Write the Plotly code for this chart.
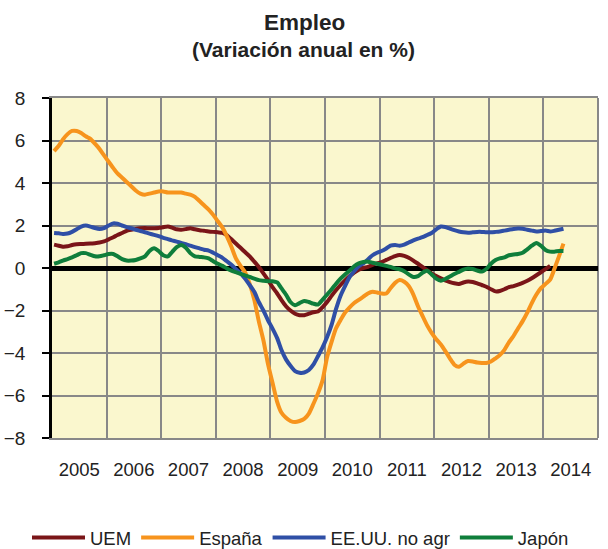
import plotly.graph_objects as go

# Monthly data, Jan 2005 onward (annual % change)
uem = [
    1.10, 1.05, 1.00, 1.02, 1.08, 1.12, 1.13, 1.14, 1.15, 1.17, 1.20, 1.25,
    1.35, 1.45, 1.55, 1.65, 1.75, 1.80, 1.84, 1.87, 1.88, 1.87, 1.87, 1.88,
    1.92, 1.95, 1.90, 1.82, 1.80, 1.83, 1.87, 1.82, 1.78, 1.75, 1.72, 1.70,
    1.68, 1.66, 1.55, 1.35, 1.15, 0.95, 0.75, 0.55, 0.30, 0.05, -0.25, -0.55,
    -0.90, -1.20, -1.50, -1.80, -2.00, -2.15, -2.22, -2.22, -2.15, -2.08, -2.05, -1.85,
    -1.60, -1.30, -1.05, -0.80, -0.58, -0.38, -0.22, -0.08, 0.00, 0.05, 0.15, 0.22,
    0.28, 0.38, 0.47, 0.56, 0.61, 0.57, 0.48, 0.35, 0.20, 0.05, -0.10, -0.25,
    -0.38, -0.48, -0.58, -0.66, -0.72, -0.75, -0.68, -0.64, -0.66, -0.72, -0.80, -0.88,
    -1.00, -1.10, -1.08, -1.00, -0.90, -0.85, -0.78, -0.70, -0.60, -0.48, -0.34, -0.20,
    -0.05, 0.10,
]

espana = [
    5.50, 5.75, 6.05, 6.30, 6.45, 6.45, 6.35, 6.20, 6.08, 5.85, 5.60, 5.30,
    5.00, 4.70, 4.45, 4.25, 4.05, 3.85, 3.65, 3.50, 3.45, 3.50, 3.55, 3.60,
    3.60, 3.55, 3.55, 3.55, 3.55, 3.50, 3.45, 3.35, 3.15, 2.95, 2.75, 2.50,
    2.20, 1.90, 1.50, 1.00, 0.45, 0.10, -0.20, -0.75, -1.50, -2.50, -3.40, -4.50,
    -5.40, -6.30, -6.80, -7.05, -7.20, -7.25, -7.20, -7.10, -6.85, -6.40, -5.90, -5.30,
    -4.20, -3.45, -2.85, -2.45, -2.10, -1.85, -1.65, -1.50, -1.35, -1.20, -1.12, -1.15,
    -1.20, -1.20, -0.95, -0.70, -0.57, -0.65, -0.85, -1.25, -1.80, -2.25, -2.70, -3.05,
    -3.35, -3.60, -3.90, -4.25, -4.55, -4.65, -4.50, -4.38, -4.40, -4.45, -4.47, -4.47,
    -4.40, -4.25, -4.10, -3.85, -3.50, -3.20, -2.85, -2.50, -2.10, -1.65, -1.25, -0.95,
    -0.75, -0.55, -0.05, 0.55, 1.15,
]

eeuu = [
    1.65, 1.63, 1.60, 1.62, 1.70, 1.82, 1.95, 2.00, 1.95, 1.88, 1.84, 1.88,
    2.00, 2.10, 2.08, 2.00, 1.92, 1.87, 1.80, 1.74, 1.68, 1.62, 1.56, 1.50,
    1.42, 1.36, 1.30, 1.24, 1.18, 1.12, 1.05, 0.98, 0.92, 0.86, 0.82, 0.72,
    0.60, 0.48, 0.32, 0.15, -0.05, -0.25, -0.50, -0.80, -1.12, -1.60, -2.00, -2.45,
    -2.85, -3.30, -3.85, -4.30, -4.60, -4.85, -4.93, -4.92, -4.80, -4.55, -4.15, -3.75,
    -3.25, -2.65, -1.95, -1.30, -0.85, -0.42, -0.15, 0.08, 0.22, 0.40, 0.60, 0.72,
    0.80, 0.92, 1.05, 1.08, 1.05, 1.10, 1.20, 1.30, 1.38, 1.45, 1.55, 1.65,
    1.82, 1.95, 1.93, 1.85, 1.78, 1.72, 1.68, 1.66, 1.68, 1.70, 1.70, 1.68,
    1.68, 1.70, 1.72, 1.76, 1.80, 1.84, 1.86, 1.85, 1.80, 1.76, 1.72, 1.74,
    1.76, 1.72, 1.75, 1.80, 1.85,
]

japon = [
    0.20, 0.27, 0.35, 0.42, 0.50, 0.60, 0.70, 0.70, 0.62, 0.55, 0.55, 0.60,
    0.66, 0.66, 0.55, 0.42, 0.35, 0.35, 0.38, 0.45, 0.55, 0.80, 0.93, 0.80,
    0.60, 0.55, 0.75, 0.98, 1.08, 0.95, 0.70, 0.55, 0.52, 0.50, 0.45, 0.32,
    0.20, 0.10, -0.02, -0.12, -0.20, -0.28, -0.35, -0.42, -0.50, -0.57, -0.60, -0.62,
    -0.62, -0.68, -0.95, -1.25, -1.60, -1.75, -1.65, -1.55, -1.60, -1.68, -1.72, -1.50,
    -1.25, -1.00, -0.75, -0.50, -0.30, -0.12, 0.08, 0.22, 0.28, 0.30, 0.25, 0.20,
    0.15, 0.10, 0.05, -0.02, -0.06, -0.15, -0.30, -0.42, -0.38, -0.22, -0.13, -0.30,
    -0.50, -0.60, -0.52, -0.40, -0.28, -0.18, -0.08, -0.02, -0.05, -0.12, -0.17, -0.05,
    0.20, 0.38, 0.45, 0.50, 0.60, 0.64, 0.66, 0.72, 0.88, 1.05, 1.18, 1.05,
    0.85, 0.77, 0.77, 0.80, 0.80,
]

series_names = ["UEM", "España", "EE.UU. no agr", "Japón"]
series_colors = ["#7A1518", "#F7941D", "#2F4FA6", "#0F7E3B"]
y_ticks = [-8, -6, -4, -2, 0, 2, 4, 6, 8]


def month_dates(n):
    return [f"{2005 + i // 12}-{i % 12 + 1:02d}-15" for i in range(n)]


fig = go.Figure()
for name, vals, col in zip(series_names, [uem, espana, eeuu, japon], series_colors):
    fig.add_trace(go.Scatter(
        x=month_dates(len(vals)), y=vals, name=name, mode="lines",
        line=dict(color=col, width=4, shape="spline", smoothing=0.6),
    ))

FONT = "Liberation Sans, Arial, sans-serif"
TXT = "#222222"

fig.update_layout(
    width=608, height=549,
    margin=dict(l=52, r=10, t=98, b=111, autoexpand=False),
    paper_bgcolor="white",
    plot_bgcolor="#FAF7CE",
    font=dict(family=FONT, size=18, color=TXT),
    showlegend=True,
    legend=dict(
        orientation="h", xref="container", yref="container",
        x=27 / 608, y=1 - 538 / 549, xanchor="left", yanchor="middle",
        font=dict(size=18.5, color=TXT),
        itemwidth=53, tracegroupgap=0, bgcolor="rgba(0,0,0,0)",
    ),
    annotations=[
        dict(text="<b>Empleo</b>", xref="paper", yref="paper",
             x=(304 - 52) / 546, y=(438 - 23) / 340, xanchor="center", yanchor="middle",
             showarrow=False, font=dict(size=22.5, family=FONT, color=TXT)),
        dict(text="<b>(Variación anual en %)</b>", xref="paper", yref="paper",
             x=(303 - 52) / 546, y=(438 - 49) / 340, xanchor="center", yanchor="middle",
             showarrow=False, font=dict(size=21, family=FONT, color=TXT)),
    ],
    shapes=[
        dict(type="line", xref="paper", yref="paper", x0=1, x1=1, y0=0, y1=1,
             line=dict(color="#888888", width=2), layer="below"),
    ],
)

fig.update_xaxes(
    type="date", range=["2005-01-01", "2015-01-01"],
    tick0="2005-01-01", dtick="M12", tickformat="%Y", ticklabelmode="period",
    showgrid=True, gridcolor="#888888", gridwidth=2,
    showline=True, linecolor="#888888", linewidth=2, mirror=True,
    ticks="", ticklabelstandoff=14, automargin=False,
    tickfont=dict(size=18.5, color=TXT),
)
fig.update_yaxes(
    range=[-8, 8], tickvals=y_ticks,
    showgrid=True, gridcolor="#888888", gridwidth=2,
    zeroline=True, zerolinecolor="black", zerolinewidth=4.5,
    showline=True, linecolor="black", linewidth=2.5, mirror=False,
    ticks="outside", ticklen=7, tickwidth=2, tickcolor="black",
    ticklabelstandoff=13, automargin=False,
    tickfont=dict(size=19, color=TXT),
)

fig.write_html(
    "out.html",
    config={"displayModeBar": False},
    post_script="document.body.style.margin='0';document.body.style.overflow='hidden';",
)
